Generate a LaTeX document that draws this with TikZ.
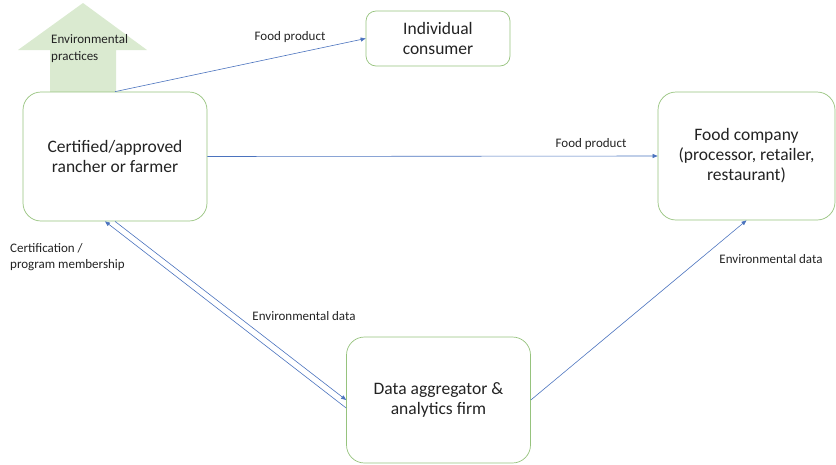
\documentclass[tikz,border=0pt]{standalone}
\usepackage{fontspec}
\setmainfont{Carlito}
\usetikzlibrary{arrows.meta,calc}
\definecolor{boxgreen}{RGB}{150,195,125}
\definecolor{fillgreen}{RGB}{218,234,208}
\definecolor{lineblue}{RGB}{75,115,190}
\definecolor{txt}{RGB}{35,35,35}
\tikzset{
  entity/.style={draw=boxgreen, line width=0.7pt, rounded corners=18pt, fill=white,
    align=center, text=txt, font=\fontsize{17.5}{20}\selectfont, inner sep=0pt},
  flow/.style={draw=lineblue, line width=0.6pt, -{Triangle[length=5pt,width=4pt]}},
  lbl/.style={text=txt, font=\fontsize{13}{16.5}\selectfont, inner sep=0pt}
}
\begin{document}
\begin{tikzpicture}[x=1pt,y=-1pt]
\useasboundingbox (0,0) rectangle (836,464);
% green arrow
\fill[fillgreen] (50,92) -- (50,50) -- (18,50) -- (83,3) -- (147,50) -- (116,50) -- (116,92) -- cycle;
\node[lbl, align=left, anchor=west] (envprac) at (51,48.5) {Environmental\\practices};
% boxes
\node[entity, minimum width=184pt, minimum height=129pt] (farmer) at (115,156.5) {Certified/approved\\rancher or farmer};
\node[entity, minimum width=144pt, minimum height=55pt, rounded corners=10pt] (consumer) at (438,38.5) {Individual\\consumer};
\node[entity, minimum width=177pt, minimum height=128pt] (food) at (746.5,156) {Food company\\(processor, retailer,\\restaurant)};
\node[entity, minimum width=184pt, minimum height=126pt] (agg) at (438.5,400) {Data aggregator \&\\analytics firm};
% connectors
\draw[flow] (farmer.north) -- (consumer.west);
\draw[flow] (farmer.east) -- (food.west);
\draw[flow] ($(agg.west)+(0,8)$) -- ($(farmer.south)+(-10,0)$);
\draw[flow] (farmer.south) -- (agg.west);
\draw[flow] (agg.east) -- (food.south);
% labels
\node[lbl] (fp1) at (290,37) {Food product};
\node[lbl] (fp2) at (591,144) {Food product};
\node[lbl, align=left, anchor=north west] (cert) at (10,243) {Certification /\\program membership};
\node[lbl] (ed1) at (304,316) {Environmental data};
\node[lbl] (ed2) at (771,259) {Environmental data};
\end{tikzpicture}
\end{document}
